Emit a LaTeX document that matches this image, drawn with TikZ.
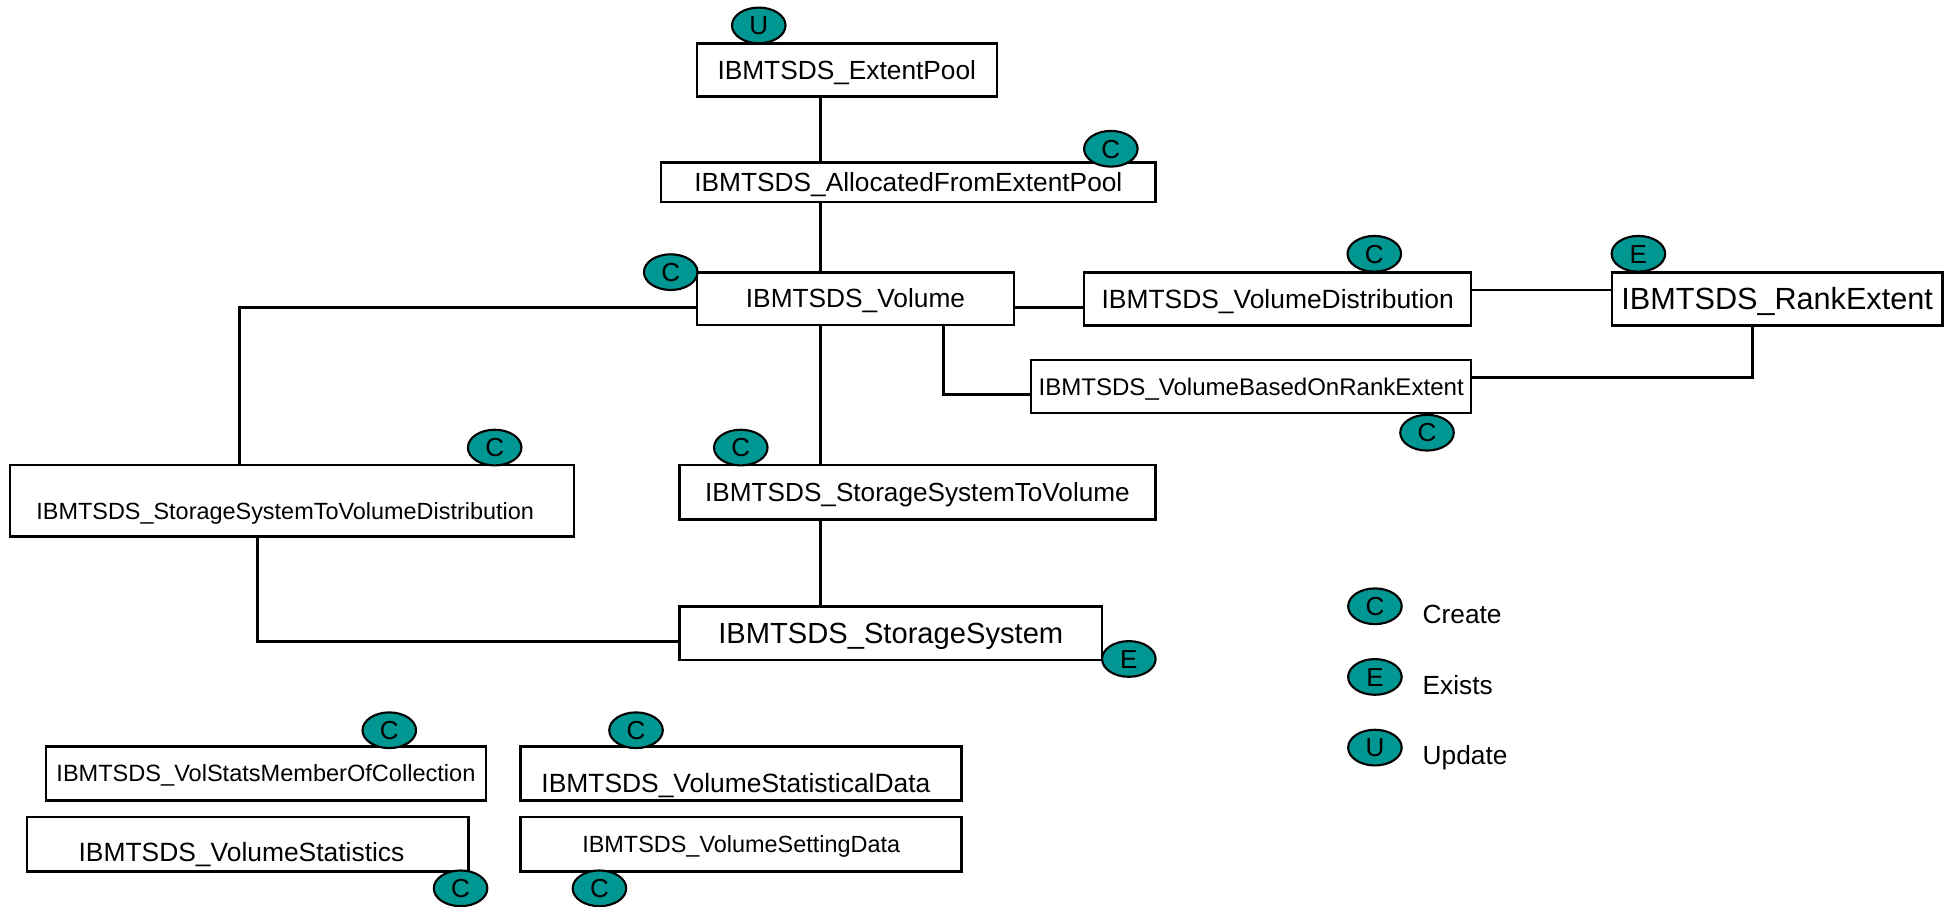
\documentclass[tikz,border=0pt]{standalone}
\usepackage{fontspec}
\setmainfont{Liberation Sans}
\usetikzlibrary{shapes.geometric}
\definecolor{badgeteal}{RGB}{0,150,146}
\tikzset{
  cls/.style={draw, line width=2pt, fill=white, inner sep=0pt, outer sep=0pt,
    font=\fontsize{#1pt}{#1pt}\selectfont, text height=#1*0.716pt, text depth=0pt},
  badge/.style={ellipse, draw, line width=1.7pt, fill=badgeteal, inner sep=0pt, outer sep=0pt,
    minimum width=43.2pt, minimum height=28.8pt,
    font=\fontsize{21pt}{21pt}\selectfont, text height=15pt, text depth=0pt},
  legtext/.style={anchor=base west, inner sep=0pt, font=\fontsize{21.2pt}{21.2pt}\selectfont},
  conn/.style={line width=2.4pt}
}
\begin{document}
\begin{tikzpicture}[x=1pt, y=-1pt]
\fill[white] (0,0) rectangle (1568,731);
\useasboundingbox (0,0) rectangle (1568,731);

% connectors
\node[cls=21.2, minimum width=242pt, minimum height=43pt] (ep) at (683,56.5) {IBMTSDS\_ExtentPool};
\node[cls=21.2, minimum width=398.7pt, minimum height=32pt] (afe) at (732.65,147) {IBMTSDS\_AllocatedFromExtentPool};
\node[cls=21.2, minimum width=256pt, minimum height=42.4pt] (vol) at (690,240.8) {IBMTSDS\_Volume};
\node[cls=21.3, minimum width=312.1pt, minimum height=43.1pt] (vd) at (1030.55,241.15) {IBMTSDS\_VolumeDistribution};
\node[cls=24.7, minimum width=266.8pt, minimum height=43.1pt] (re) at (1433.4,241.15) {IBMTSDS\_RankExtent};
\node[cls=19.4, minimum width=354.9pt, minimum height=43pt] (vb) at (1009.15,311.8) {IBMTSDS\_VolumeBasedOnRankExtent};
\node[cls=18.9, minimum width=455pt, minimum height=57.8pt] (sstvd) at (235.5,403.9) {\raisebox{-8.6pt}{IBMTSDS\_StorageSystemToVolumeDistribution\kern11pt}};
\node[cls=21.1, minimum width=384pt, minimum height=44pt] (sstv) at (740,397) {IBMTSDS\_StorageSystemToVolume};
\node[cls=23.5, minimum width=341pt, minimum height=43pt] (ss) at (718.5,510.8) {IBMTSDS\_StorageSystem};
\node[cls=19.0, minimum width=355pt, minimum height=43.7pt] (vsmc) at (214.5,623.85) {IBMTSDS\_VolStatsMemberOfCollection};
\node[cls=21.3, minimum width=355.7pt, minimum height=43.7pt] (vsd) at (597.85,623.85) {\raisebox{-8pt}{IBMTSDS\_VolumeStatisticalData\kern8.6pt}};
\node[cls=21.3, minimum width=356.4pt, minimum height=44pt] (vstats) at (199.8,681) {\raisebox{-6pt}{IBMTSDS\_VolumeStatistics\kern10pt}};
\node[cls=18.9, minimum width=355.7pt, minimum height=44pt] (vset) at (597.85,681) {IBMTSDS\_VolumeSettingData};

\coordinate (sp) at (661.5,0);
\draw[conn] (ep.south -| sp) -- (afe.north -| sp);
\draw[conn] (afe.south -| sp) -- (vol.north -| sp);
\draw[conn] (vol.south -| sp) -- (sstv.north -| sp);
\draw[conn] (sstv.south -| sp) -- (ss.north -| sp);
\coordinate (j1) at (193,247.8);
\draw[conn] (vol.west |- j1) -- (j1) -- (j1 |- sstvd.north);
\draw[conn] (vol.east |- j1) -- (vd.west |- j1);
\coordinate (j2) at (1243,233.9);
\draw[conn] (vd.east |- j2) -- (re.west |- j2);
\coordinate (j3) at (1413.3,304.6);
\draw[conn] (re.south -| j3) -- (j3) -- (vb.east |- j3);
\coordinate (j4) at (760.7,318);
\draw[conn] (vol.south -| j4) -- (j4) -- (vb.west |- j4);
\coordinate (j5) at (208,517.5);
\draw[conn] (sstvd.south -| j5) -- (j5) -- (ss.west |- j5);

% badges
\node[badge] (bep) at (612,20.5) {U};
\node[badge] (bafe) at (896,120) {C};
\node[badge] (bvol) at (541,219.5) {C};
\node[badge] (bvd) at (1108.5,204.7) {C};
\node[badge] (bre) at (1321.5,204.7) {E};
\node[badge] (bvb) at (1151,349) {C};
\node[badge] (bsstvd) at (399,361) {C};
\node[badge] (bsstv) at (597.5,361) {C};
\node[badge] (bss) at (910.5,531.5) {E};
\node[badge] (bvsmc) at (314,589) {C};
\node[badge] (bvsd) at (513,589) {C};
\node[badge] (bvstats) at (371.5,716.5) {C};
\node[badge] (bvset) at (483.5,716.5) {C};

% legend
\node[badge] (lc) at (1109,489) {C};
\node[badge] (le) at (1109,546) {E};
\node[badge] (lu) at (1109,603) {U};
\node[legtext] (tc) at (1147.3,503.2) {Create};
\node[legtext] (te) at (1147.3,560.5) {Exists};
\node[legtext] (tu) at (1147.3,617) {Update};
\end{tikzpicture}
\end{document}
